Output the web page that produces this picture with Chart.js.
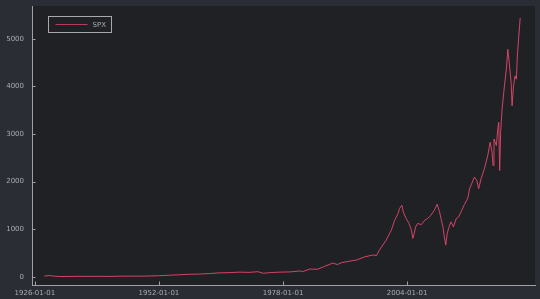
<!DOCTYPE html>
<html>
<head>
<meta charset="utf-8">
<script src="https://cdn.jsdelivr.net/npm/chart.js@4.4.1/dist/chart.umd.min.js"></script>
<style>
  html, body { margin: 0; padding: 0; background: #2a2d33; }
  #wrap { width: 540px; height: 299px; }
</style>
</head>
<body>
<div id="wrap"><canvas id="spx"></canvas></div>
<script>
// dates as year fractions
const years = [
  1928.0, 1929.1, 1930.1, 1931.2, 1933.3, 1935.4, 1937.5, 1939.6, 1941.7, 1943.7,
  1945.8, 1947.9, 1950.0, 1952.1, 1954.2, 1956.3, 1958.4, 1960.5, 1962.6, 1964.7,
  1966.8, 1968.9, 1971.0, 1972.7, 1973.9, 1975.2, 1977.3, 1979.4, 1981.5, 1982.1,
  1983.6, 1985.2, 1986.7, 1988.4, 1989.4, 1990.3, 1991.9, 1993.4, 1995.1, 1996.8,
  1997.6, 1998.2, 1999.6, 2000.7, 2001.4, 2002.1, 2002.4, 2002.9, 2003.2, 2003.8,
  2004.4, 2004.9, 2005.2, 2005.4, 2005.8, 2006.2, 2007.0, 2007.7, 2008.3, 2009.0,
  2009.7, 2010.3, 2010.8, 2011.1, 2011.5, 2011.8, 2012.1, 2012.4, 2012.9, 2013.2,
  2013.7, 2014.3, 2014.8, 2015.3, 2016.0, 2016.7, 2017.1, 2018.1, 2018.6, 2019.0,
  2019.5, 2020.2, 2020.9, 2021.4, 2021.8, 2022.0, 2022.2, 2022.7, 2023.0, 2023.2,
  2023.4, 2023.6, 2023.9, 2024.4, 2024.8, 2025.1, 2025.4, 2025.8, 2026.0, 2026.3,
  2026.6, 2026.9, 2027.1, 2027.4, 2027.7
];
const spx = [
  18, 28, 15, 8, 10, 12, 11, 12, 10, 15,
  17, 16, 20, 25, 35, 45, 55, 60, 70, 85,
  90, 100, 95, 110, 75, 90, 100, 105, 125, 110,
  165, 160, 220, 290, 260, 300, 330, 355, 420, 460,
  450, 564, 773, 982, 1191, 1331, 1435, 1505, 1365, 1227,
  1122, 982, 809, 878, 1052, 1122, 1100, 1191, 1227, 1296,
  1400, 1526, 1365, 1227, 1052, 843, 669, 913, 1087, 1156,
  1052, 1227, 1261, 1365, 1520, 1645, 1854, 2096, 2027, 1854,
  2063, 2272, 2550, 2828, 2619, 2341, 2898, 2759, 3108, 3246,
  2236, 3037, 3526, 4013, 4362, 4780, 4500, 4082, 3595, 4013,
  4222, 4153, 4640, 5058, 5441
];
const xTicks = [1926, 1952, 1978, 2004];
const yTicks = [0, 1000, 2000, 3000, 4000, 5000];
const seriesName = "SPX";

const axisColor = "#9da0a6";
const textColor = "#a9acb2";
const lineColor = "#e8476d";

// plot area background, inward tick marks and the framed legend
const decor = {
  id: "decor",
  beforeDraw(chart) {
    const { ctx, chartArea: a } = chart;
    ctx.save();
    ctx.fillStyle = "#1f2125";
    ctx.fillRect(a.left, a.top, a.right - a.left, a.bottom - a.top);
    ctx.restore();
  },
  afterDraw(chart) {
    const { ctx, chartArea: a, scales } = chart;
    ctx.save();
    ctx.strokeStyle = axisColor;
    ctx.lineWidth = 1;
    ctx.beginPath();
    scales.x.ticks.forEach(t => {
      const px = Math.round(scales.x.getPixelForValue(t.value)) + 0.5;
      ctx.moveTo(px, a.bottom);
      ctx.lineTo(px, a.bottom - 3.5);
    });
    scales.y.ticks.forEach(t => {
      const py = Math.round(scales.y.getPixelForValue(t.value)) + 0.5;
      ctx.moveTo(a.left, py);
      ctx.lineTo(a.left + 3.5, py);
    });
    ctx.stroke();

    // legend
    const lx = a.left + 16.5, ly = a.top + 10.5;
    ctx.strokeStyle = "#a6a9ae";
    ctx.strokeRect(lx, ly, 63, 16);
    ctx.strokeStyle = lineColor;
    ctx.globalAlpha = 0.75;
    ctx.lineWidth = 1.2;
    ctx.beginPath();
    ctx.moveTo(lx + 7, ly + 8);
    ctx.lineTo(lx + 39, ly + 8);
    ctx.stroke();
    ctx.globalAlpha = 1;
    ctx.fillStyle = textColor;
    ctx.font = "7px 'DejaVu Sans'";
    ctx.textBaseline = "middle";
    ctx.fillText(seriesName, lx + 44, ly + 8.5);
    ctx.restore();
  }
};

new Chart(document.getElementById("spx"), {
  type: "line",
  data: {
    datasets: [{
      label: seriesName,
      data: years.map((y, i) => ({ x: y, y: spx[i] })),
      borderColor: lineColor,
      borderWidth: 0.9,
      pointRadius: 0,
      tension: 0,
      fill: false
    }]
  },
  options: {
    responsive: true,
    maintainAspectRatio: false,
    animation: false,
    layout: { padding: { top: 6, right: 5, left: 0, bottom: 0 } },
    plugins: { legend: { display: false }, tooltip: { enabled: false } },
    scales: {
      x: {
        type: "linear",
        min: 1925.4,
        max: 2030.8,
        afterBuildTicks: s => { s.ticks = xTicks.map(v => ({ value: v })); },
        afterFit: s => { s.height = 14; s.paddingLeft = 0; s.paddingRight = 0; },
        grid: { drawOnChartArea: false, drawTicks: false },
        border: { color: axisColor, width: 1 },
        ticks: {
          color: textColor,
          padding: 4,
          maxRotation: 0,
          autoSkip: false,
          font: { family: "'DejaVu Sans'", size: 7 },
          callback: v => v + "-01-01"
        }
      },
      y: {
        min: -170,
        max: 5690,
        afterBuildTicks: s => { s.ticks = yTicks.map(v => ({ value: v })); },
        afterFit: s => { s.width = 32; s.paddingTop = 0; s.paddingBottom = 0; },
        grid: { drawOnChartArea: false, drawTicks: false },
        border: { color: axisColor, width: 1 },
        ticks: {
          color: textColor,
          padding: 8,
          font: { family: "'DejaVu Sans'", size: 7 },
          callback: v => String(v)
        }
      }
    }
  },
  plugins: [decor]
});
</script>
</body>
</html>
